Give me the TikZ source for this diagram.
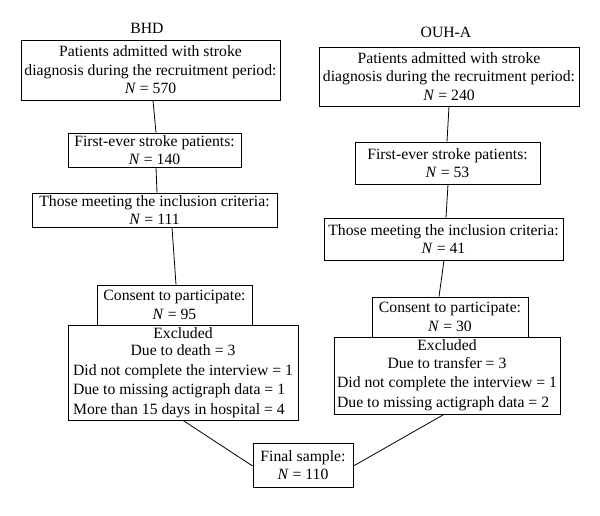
\documentclass[tikz,border=0pt]{standalone}
\usepackage{fontspec}
\setmainfont{Liberation Serif}
\begin{document}
\begin{tikzpicture}[x=1pt,y=-1pt,
  box/.style={draw,line width=0.8pt,inner sep=0pt,align=center,
    font=\fontsize{15.7}{18.5}\selectfont},
  conn/.style={line width=0.8pt},
  lbl/.style={font=\fontsize{15.7}{18.5}\selectfont}]
\useasboundingbox (0,0) rectangle (600,515);
% left column
\node[lbl] (bhd) at (147,28) {BHD};
\node[box,minimum width=259pt,minimum height=60pt] (b1) at (150.5,70)
  {Patients admitted with stroke\\diagnosis during the recruitment period:\\\textit{N} = 570};
\node[box,minimum width=173pt,minimum height=34pt] (b2) at (154.5,150)
  {First-ever stroke patients:\\\textit{N} = 140};
\node[box,minimum width=245pt,minimum height=34pt] (b3) at (154.5,210)
  {Those meeting the inclusion criteria:\\\textit{N} = 111};
\node[box,minimum width=155pt,minimum height=40pt] (b4) at (174.5,305)
  {Consent to participate:\\\textit{N} = 95};
\node[box,minimum width=230pt,minimum height=95pt] (b5) at (183,372.5)
  {\begin{tabular}{@{}l@{}}
   \multicolumn{1}{@{}c@{}}{Excluded}\\[-1pt]
   \multicolumn{1}{@{}c@{}}{Due to death = 3}\\[1pt]
   Did not complete the interview = 1\\[1pt]
   Due to missing actigraph data = 1\\[1pt]
   More than 15 days in hospital = 4
   \end{tabular}};
\node[box,minimum width=100pt,minimum height=44pt] (fin) at (303,465)
  {Final sample:\\\textit{N} = 110};
% right column
\node[lbl] (ouh) at (446,32) {OUH-A};
\node[box,minimum width=260pt,minimum height=59pt] (r1) at (449,76.5)
  {Patients admitted with stroke\\diagnosis during the recruitment period:\\\textit{N} = 240};
\node[box,minimum width=185pt,minimum height=42pt] (r2) at (447.5,163)
  {First-ever stroke patients:\\\textit{N} = 53};
\node[box,minimum width=239pt,minimum height=42pt] (r3) at (443.5,239)
  {Those meeting the inclusion criteria:\\\textit{N} = 41};
\node[box,minimum width=156pt,minimum height=40pt] (r4) at (450,317)
  {Consent to participate:\\\textit{N} = 30};
\node[box,minimum width=226pt,minimum height=77pt] (r5) at (447,375.5)
  {\begin{tabular}{@{}l@{}}
   \multicolumn{1}{@{}c@{}}{Excluded}\\[-1pt]
   \multicolumn{1}{@{}c@{}}{Due to transfer = 3}\\[1pt]
   Did not complete the interview = 1\\[1pt]
   Due to missing actigraph data = 2
   \end{tabular}};
% connectors
\draw[conn] ([xshift=2.5pt]b1.south) -- ([xshift=1.5pt]b2.north);
\draw[conn] ([xshift=1.5pt]b2.south) -- ([xshift=2.5pt]b3.north);
\draw[conn] ([xshift=17.5pt]b3.south) -- ([xshift=1.5pt]b4.north);
\draw[conn] (b5.south) -- ([yshift=-1pt]fin.west);
\draw[conn] (r1.south) -- ([xshift=-0.5pt]r2.north);
\draw[conn] ([xshift=0.5pt]r2.south) -- ([xshift=2.5pt]r3.north);
\draw[conn] ([xshift=0.5pt]r3.south) -- ([xshift=-11pt]r4.north);
\draw[conn] ([xshift=-3pt]r5.south) -- ([yshift=-1pt]fin.east);
\end{tikzpicture}
\end{document}
